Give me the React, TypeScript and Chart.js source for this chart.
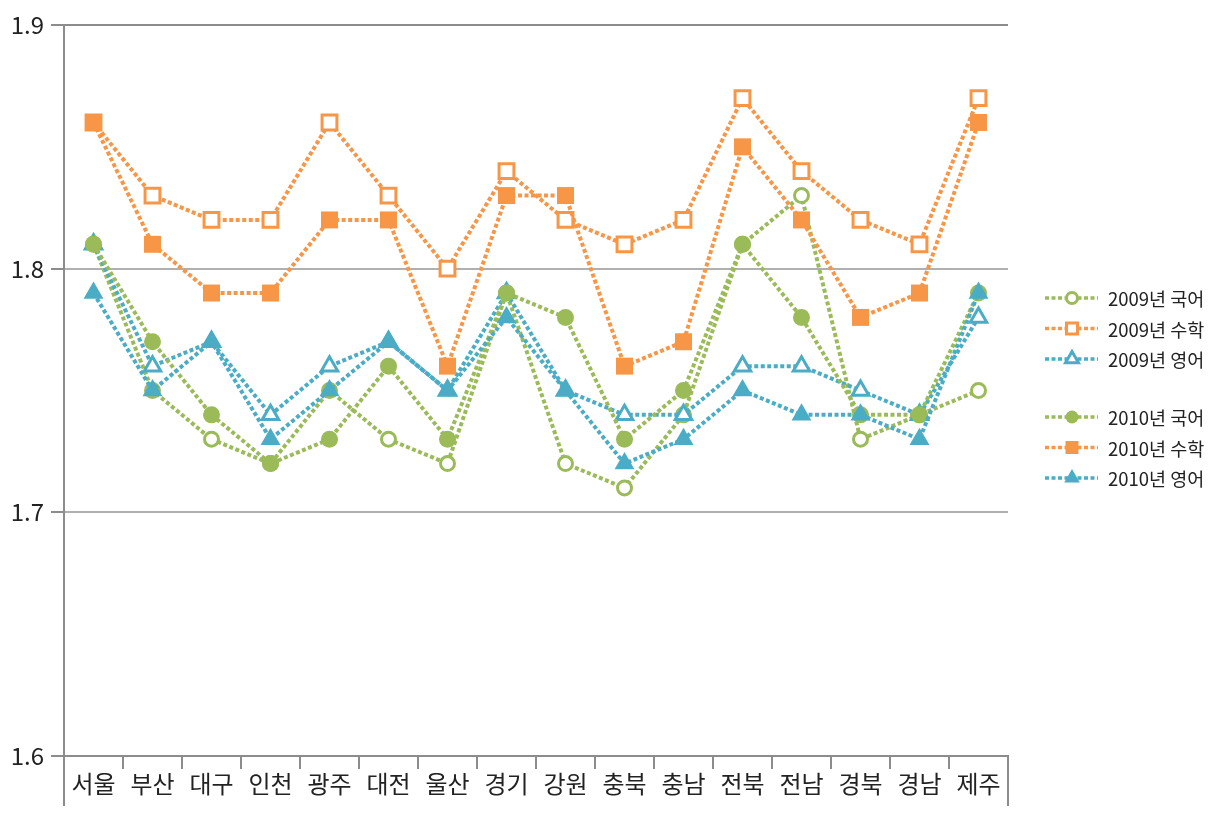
import React, { useEffect, useRef } from 'react';
import { Chart, registerables } from 'chart.js';

Chart.register(...registerables);

const categories = ['서울', '부산', '대구', '인천', '광주', '대전', '울산', '경기', '강원', '충북', '충남', '전북', '전남', '경북', '경남', '제주'];

const kor2009 = [1.81, 1.75, 1.73, 1.72, 1.75, 1.73, 1.72, 1.79, 1.72, 1.71, 1.74, 1.81, 1.83, 1.73, 1.74, 1.75];
const math2009 = [1.86, 1.83, 1.82, 1.82, 1.86, 1.83, 1.80, 1.84, 1.82, 1.81, 1.82, 1.87, 1.84, 1.82, 1.81, 1.87];
const eng2009 = [1.81, 1.76, 1.77, 1.74, 1.76, 1.77, 1.75, 1.79, 1.75, 1.74, 1.74, 1.76, 1.76, 1.75, 1.74, 1.78];
const kor2010 = [1.81, 1.77, 1.74, 1.72, 1.73, 1.76, 1.73, 1.79, 1.78, 1.73, 1.75, 1.81, 1.78, 1.74, 1.74, 1.79];
const math2010 = [1.86, 1.81, 1.79, 1.79, 1.82, 1.82, 1.76, 1.83, 1.83, 1.76, 1.77, 1.85, 1.82, 1.78, 1.79, 1.86];
const eng2010 = [1.79, 1.75, 1.77, 1.73, 1.75, 1.77, 1.75, 1.78, 1.75, 1.72, 1.73, 1.75, 1.74, 1.74, 1.73, 1.79];

const seriesLabels = ['2009년 국어', '2009년 수학', '2009년 영어', '2010년 국어', '2010년 수학', '2010년 영어'];
const yTicks = [1.6, 1.7, 1.8, 1.9];

const GREEN = '#9bbb59';
const ORANGE = '#f79646';
const BLUE = '#4bacc6';
const AXIS = '#8c8c8c';
const GRID = '#b0b0b0';
const FONT = '"Noto Sans CJK KR", "Noto Sans", sans-serif';

type Style = 'circle' | 'rect' | 'triangle';
interface Spec { label: string; data: number[]; color: string; style: Style; filled: boolean; order: number }

const specs: Spec[] = [
  { label: seriesLabels[0], data: kor2009, color: GREEN, style: 'circle', filled: false, order: 6 },
  { label: seriesLabels[1], data: math2009, color: ORANGE, style: 'rect', filled: false, order: 5 },
  { label: seriesLabels[2], data: eng2009, color: BLUE, style: 'triangle', filled: false, order: 4 },
  { label: seriesLabels[3], data: kor2010, color: GREEN, style: 'circle', filled: true, order: 3 },
  { label: seriesLabels[4], data: math2010, color: ORANGE, style: 'rect', filled: true, order: 2 },
  { label: seriesLabels[5], data: eng2010, color: BLUE, style: 'triangle', filled: true, order: 1 },
];

function radiusFor(s: Spec): number {
  if (s.style === 'circle') return s.filled ? 8.5 : 7;
  if (s.style === 'rect') return s.filled ? 12 : 10.5;
  return s.filled ? 11.5 : 9.5;
}

function drawMarker(ctx: CanvasRenderingContext2D, s: Spec, x: number, y: number) {
  ctx.save();
  ctx.setLineDash([]);
  ctx.beginPath();
  if (s.style === 'circle') {
    const r = s.filled ? 6.5 : 5.5;
    ctx.arc(x, y, r, 0, Math.PI * 2);
  } else if (s.style === 'rect') {
    const h = s.filled ? 6.5 : 5.5;
    ctx.rect(x - h, y - h, 2 * h, 2 * h);
  } else {
    const r = s.filled ? 9 : 7.5;
    for (let k = 0; k < 3; k++) {
      const a = (k * 2 * Math.PI) / 3;
      const px = x + Math.sin(a) * r;
      const py = y - Math.cos(a) * r;
      if (k === 0) ctx.moveTo(px, py); else ctx.lineTo(px, py);
    }
    ctx.closePath();
  }
  if (s.filled) {
    ctx.fillStyle = s.color;
    ctx.fill();
  } else {
    ctx.fillStyle = '#ffffff';
    ctx.fill();
    ctx.lineWidth = 3;
    ctx.strokeStyle = s.color;
    ctx.lineJoin = 'miter';
    ctx.stroke();
  }
  ctx.restore();
}

const legendPlugin = {
  id: 'customLegend',
  afterDraw(chart: any) {
    const ctx: CanvasRenderingContext2D = chart.ctx;
    const area = chart.chartArea;
    const x0 = area.right + 37;
    const rowGap = 30.5;
    const groupTop = [area.top + 273, area.top + 392];
    specs.forEach((s, i) => {
      const g = i < 3 ? 0 : 1;
      const y = groupTop[g] + (i % 3) * rowGap;
      ctx.save();
      ctx.strokeStyle = s.color;
      ctx.lineWidth = 3.5;
      ctx.setLineDash([4, 2.5]);
      ctx.beginPath();
      ctx.moveTo(x0, y);
      ctx.lineTo(x0 + 53, y);
      ctx.stroke();
      ctx.restore();
      drawMarker(ctx, s, x0 + 27, y);
      ctx.save();
      ctx.fillStyle = '#222222';
      ctx.font = `18.5px ${FONT}`;
      ctx.textAlign = 'left';
      ctx.textBaseline = 'middle';
      ctx.fillText(s.label, x0 + 63, y + 1);
      ctx.restore();
    });
  },
};

const edgePlugin = {
  id: 'edgeTicks',
  afterDraw(chart: any) {
    const ctx: CanvasRenderingContext2D = chart.ctx;
    const a = chart.chartArea;
    ctx.save();
    ctx.strokeStyle = AXIS;
    ctx.lineWidth = 2;
    ctx.beginPath();
    ctx.moveTo(a.left, a.bottom);
    ctx.lineTo(a.left, a.bottom + 50);
    ctx.moveTo(a.right, a.bottom);
    ctx.lineTo(a.right, a.bottom + 50);
    ctx.stroke();
    ctx.restore();
  },
};

export default function App() {
  const ref = useRef<HTMLCanvasElement | null>(null);

  useEffect(() => {
    if (!ref.current) return;
    const datasets = specs.map((s) => ({
      label: s.label,
      data: s.data,
      order: s.order,
      borderColor: s.color,
      backgroundColor: s.color,
      borderWidth: 4,
      borderDash: [4, 2.5],
      borderCapStyle: 'butt' as const,
      tension: 0,
      fill: false,
      pointStyle: s.style,
      pointRadius: radiusFor(s),
      pointHoverRadius: radiusFor(s),
      pointBackgroundColor: s.filled ? s.color : '#ffffff',
      pointBorderColor: s.color,
      pointBorderWidth: s.filled ? 0 : 3,
    }));

    const chart = new Chart(ref.current, {
      type: 'line',
      data: { labels: categories, datasets },
      options: {
        animation: false,
        responsive: true,
        maintainAspectRatio: false,
        layout: { padding: { top: 25, right: 211, left: 0, bottom: 0 } },
        plugins: { legend: { display: false }, tooltip: { enabled: false } },
        scales: {
          x: {
            type: 'category',
            offset: true,
            afterFit: (scale: any) => { scale.height = 61; },
            grid: {
              display: true,
              offset: true,
              drawOnChartArea: false,
              drawTicks: true,
              tickLength: 13,
              color: AXIS,
              lineWidth: 2,
            },
            border: { display: true, color: AXIS, width: 2 },
            ticks: {
              color: '#222222',
              font: { family: FONT, size: 24 },
              padding: 0,
              maxRotation: 0,
              autoSkip: false,
            },
          },
          y: {
            type: 'linear',
            min: yTicks[0],
            max: yTicks[yTicks.length - 1],
            afterFit: (scale: any) => { scale.width = 64; },
            afterBuildTicks: (scale: any) => { scale.ticks = yTicks.map((v) => ({ value: v })); },
            grid: {
              color: (c: any) => (c.tick && (Math.abs(c.tick.value - 1.9) < 1e-6 || Math.abs(c.tick.value - 1.6) < 1e-6) ? AXIS : GRID),
              tickColor: AXIS,
              lineWidth: 2,
              tickLength: 13,
              drawTicks: true,
            },
            border: { display: true, color: AXIS, width: 2 },
            ticks: {
              color: '#222222',
              font: { family: FONT, size: 24 },
              padding: 7,
              callback: (v: any) => Number(v).toFixed(1),
            },
          },
        },
      },
      plugins: [legendPlugin, edgePlugin],
    });
    return () => chart.destroy();
  }, []);

  return (
    <div style={{ position: 'fixed', left: 0, top: 0, width: 1219, height: 817, background: '#ffffff' }}>
      <canvas ref={ref} />
    </div>
  );
}
